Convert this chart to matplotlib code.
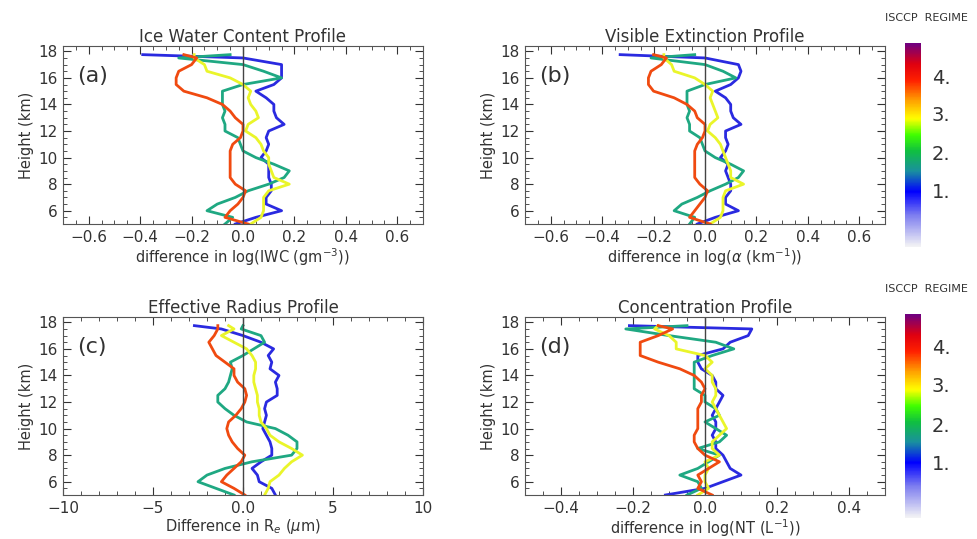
import numpy as np
import matplotlib
matplotlib.use("Agg")
import matplotlib.pyplot as plt
from matplotlib.colors import LinearSegmentedColormap
from matplotlib.ticker import AutoMinorLocator

heights = [17.75, 17.5, 17, 16.5, 16, 15.5, 15, 14.5, 14, 13.5, 13, 12.5, 12, 11.5,
           11, 10.5, 10, 9.5, 9, 8.5, 8, 7.5, 7, 6.5, 6, 5.5, 5]

# panel a: IWC
iwc_1 = [-0.39, 0.0, 0.15, 0.15, 0.15, 0.12, 0.05, 0.09, 0.12, 0.12, 0.13, 0.16, 0.1, 0.09,
         0.1, 0.09, 0.07, 0.1, 0.1, 0.1, 0.11, 0.11, 0.09, 0.09, 0.15, 0.05, -0.03]
iwc_2 = [-0.05, -0.25, 0.0, 0.08, 0.15, 0.0, -0.08, -0.08, -0.08, -0.07, -0.08, -0.07, -0.07, -0.02,
         -0.01, 0.0, 0.05, 0.12, 0.18, 0.16, 0.1, 0.02, -0.03, -0.1, -0.14, -0.04, -0.07]
iwc_3 = [-0.19, -0.19, -0.15, -0.14, -0.05, 0.0, 0.03, 0.02, 0.03, 0.05, 0.06, 0.02, 0.01, 0.05,
         0.07, 0.08, 0.1, 0.1, 0.11, 0.12, 0.18, 0.1, 0.08, 0.08, 0.08, 0.07, 0.03]
iwc_4 = [-0.23, -0.18, -0.2, -0.25, -0.26, -0.26, -0.23, -0.14, -0.08, -0.05, -0.03, 0.0, 0.0, -0.01,
         -0.04, -0.05, -0.05, -0.05, -0.05, -0.05, -0.03, 0.01, 0.0, -0.02, -0.05, -0.07, 0.02]

# panel b: extinction
ext_1 = [-0.33, 0.0, 0.13, 0.14, 0.13, 0.1, 0.04, 0.08, 0.1, 0.1, 0.11, 0.14, 0.08, 0.08,
         0.09, 0.08, 0.06, 0.09, 0.08, 0.09, 0.1, 0.1, 0.08, 0.08, 0.13, 0.04, -0.03]
ext_2 = [-0.04, -0.21, 0.0, 0.07, 0.12, 0.0, -0.07, -0.07, -0.07, -0.06, -0.07, -0.06, -0.06, -0.02,
         -0.01, 0.0, 0.04, 0.1, 0.15, 0.13, 0.08, 0.02, -0.03, -0.09, -0.12, -0.04, -0.06]
ext_3 = [-0.16, -0.16, -0.13, -0.12, -0.04, 0.0, 0.03, 0.02, 0.03, 0.04, 0.05, 0.02, 0.01, 0.04,
         0.06, 0.07, 0.08, 0.09, 0.1, 0.1, 0.15, 0.08, 0.07, 0.07, 0.07, 0.06, 0.02]
ext_4 = [-0.2, -0.15, -0.17, -0.21, -0.22, -0.22, -0.2, -0.12, -0.07, -0.04, -0.03, 0.0, 0.0, -0.01,
         -0.03, -0.04, -0.04, -0.04, -0.04, -0.04, -0.02, 0.01, 0.0, -0.02, -0.04, -0.06, 0.02]

# panel c: effective radius
re_1 = [-2.7, -1.2, 0.0, 1.0, 1.7, 1.4, 1.6, 1.5, 2.0, 1.8, 1.9, 1.9, 1.3, 1.2,
        1.3, 1.2, 1.1, 1.3, 1.5, 1.6, 1.6, 1.0, 0.5, 0.8, 0.9, 1.6, 1.8]
re_2 = [0.0, -0.1, 1.0, 1.2, 0.6, 0.0, -0.7, -0.6, -0.7, -0.8, -1.0, -1.4, -1.4, -1.0,
        -0.5, 0.2, 1.8, 2.5, 3.0, 3.0, 2.7, 0.5, -1.0, -2.0, -2.5, -1.5, -0.5]
re_3 = [-0.8, -0.5, -1.2, -0.5, 0.2, 0.5, 0.7, 0.7, 0.6, 0.6, 0.7, 0.8, 0.8, 0.9,
        0.9, 1.0, 1.3, 1.5, 2.0, 2.7, 3.3, 2.7, 2.3, 2.0, 1.5, 1.4, 1.2]
re_4 = [-1.4, -1.4, -1.6, -1.9, -1.7, -1.5, -1.0, -0.5, -0.5, -0.3, 0.1, 0.2, 0.1, -0.1,
        -0.4, -0.8, -0.9, -0.8, -0.6, -0.3, 0.1, -0.1, -0.5, -0.9, -1.2, -0.5, 0.1]

# panel d: concentration
nt_1 = [-0.21, 0.13, 0.12, 0.07, 0.05, -0.02, -0.02, -0.01, 0.02, 0.03, 0.03, 0.05, 0.04, 0.03,
        0.02, 0.03, 0.03, 0.02, 0.03, 0.03, 0.05, 0.06, 0.07, 0.1, 0.05, 0.0, -0.11]
nt_2 = [-0.05, -0.22, -0.1, 0.03, 0.08, 0.02, -0.03, -0.03, -0.03, -0.03, -0.03, 0.0, 0.0, 0.03,
        0.04, 0.0, 0.03, 0.06, 0.04, -0.02, 0.04, 0.01, -0.02, -0.07, -0.02, -0.01, -0.05]
nt_3 = [-0.13, -0.14, -0.1, -0.08, -0.08, 0.0, 0.02, 0.0, 0.02, 0.02, 0.03, 0.03, 0.02, 0.03,
        0.04, 0.05, 0.06, 0.04, 0.02, 0.02, 0.04, 0.0, 0.01, 0.0, 0.0, 0.01, -0.02]
nt_4 = [-0.13, -0.09, -0.13, -0.18, -0.18, -0.18, -0.13, -0.07, -0.03, -0.01, 0.0, -0.01, -0.01, -0.02,
        -0.02, -0.02, -0.02, -0.03, -0.03, -0.02, 0.0, 0.04, 0.01, -0.02, -0.01, -0.02, 0.02]

colors = ["#2a2ae0", "#1fa882", "#eaf52a", "#f04a10"]

cmap = LinearSegmentedColormap.from_list("idl", [
    (0.0, "#f2f2f5"), (0.15, "#8080f0"), (0.27, "#0000ff"), (0.37, "#1a90a0"),
    (0.47, "#10c040"), (0.55, "#40ff00"), (0.63, "#ffff00"), (0.72, "#ffa000"),
    (0.82, "#ff2000"), (0.9, "#e00010"), (1.0, "#700080")])

fig = plt.figure(figsize=(9.78, 5.39), dpi=100)
W, H = 978, 539
TXT = "#333333"

def box(x0, y0, x1, y1):
    return [x0 / W, 1 - y1 / H, (x1 - x0) / W, (y1 - y0) / H]

panels = [
    (box(63, 46, 423, 224), [iwc_1, iwc_2, iwc_3, iwc_4], (-0.7, 0.7), [-0.6, -0.4, -0.2, 0.0, 0.2, 0.4, 0.6],
     "Ice Water Content Profile", r"difference in log(IWC (gm$^{-3}$))", "(a)"),
    (box(525, 46, 885, 224), [ext_1, ext_2, ext_3, ext_4], (-0.7, 0.7), [-0.6, -0.4, -0.2, 0.0, 0.2, 0.4, 0.6],
     "Visible Extinction Profile", r"difference in log($\alpha$ (km$^{-1}$))", "(b)"),
    (box(63, 317, 423, 495), [re_1, re_2, re_3, re_4], (-10, 10), [-10, -5, 0, 5, 10],
     "Effective Radius Profile", r"Difference in R$_e$ ($\mu$m)", "(c)"),
    (box(525, 317, 885, 495), [nt_1, nt_2, nt_3, nt_4], (-0.5, 0.5), [-0.4, -0.2, 0.0, 0.2, 0.4],
     "Concentration Profile", r"difference in log(NT (L$^{-1}$))", "(d)"),
]

for rect, series, xlim, xt, title, xlabel, tag in panels:
    ax = fig.add_axes(rect)
    for s, c in zip(series, colors):
        ax.plot(s, heights, color=c, lw=2)
    ax.axvline(0, color="#444444", lw=1)
    ax.set_xlim(*xlim)
    ax.set_ylim(5, 18.4)
    ax.set_xticks(xt)
    ax.set_xticklabels([("%g" % v if abs(v) >= 1 else "%.1f" % v).replace("-", "\u2212") for v in xt])
    ax.set_yticks([6, 8, 10, 12, 14, 16, 18])
    ax.xaxis.set_minor_locator(AutoMinorLocator(5 if xlim[1] == 10 else 4))
    ax.yaxis.set_minor_locator(AutoMinorLocator(4))
    ax.tick_params(which="both", direction="in", top=True, right=True, labelsize=11, colors=TXT, pad=4)
    ax.tick_params(which="major", length=6)
    ax.tick_params(which="minor", length=3)
    ax.set_title(title, fontsize=12, color=TXT, pad=3)
    ax.set_xlabel(xlabel, fontsize=10.5, color=TXT, labelpad=1)
    ax.set_ylabel("Height (km)", fontsize=10.5, color=TXT, labelpad=3)
    ax.text(0.04, 0.83, tag, transform=ax.transAxes, fontsize=16, color=TXT, va="center")
    for sp in ax.spines.values():
        sp.set_color("#555555")

grad = np.linspace(-0.1, 4.8, 200).reshape(-1, 1)
for off in [0, 271]:
    y0, y1 = 43 + off, 247 + off
    cax = fig.add_axes(box(905, y0, 921, y1))
    cax.imshow(grad, aspect="auto", cmap=cmap, origin="lower", extent=[0, 1, -0.1, 4.8])
    cax.axis("off")
    for v, yy in zip([1, 2, 3, 4], [193, 155, 115, 78]):
        fig.text(932 / W, 1 - (yy + off) / H, "%d." % v, fontsize=14, color=TXT, va="center")
    fig.text(885 / W, 1 - (18 + off) / H, "ISCCP  REGIME", fontsize=8, color=TXT, va="center")

fig.savefig("out.png", dpi=100)
